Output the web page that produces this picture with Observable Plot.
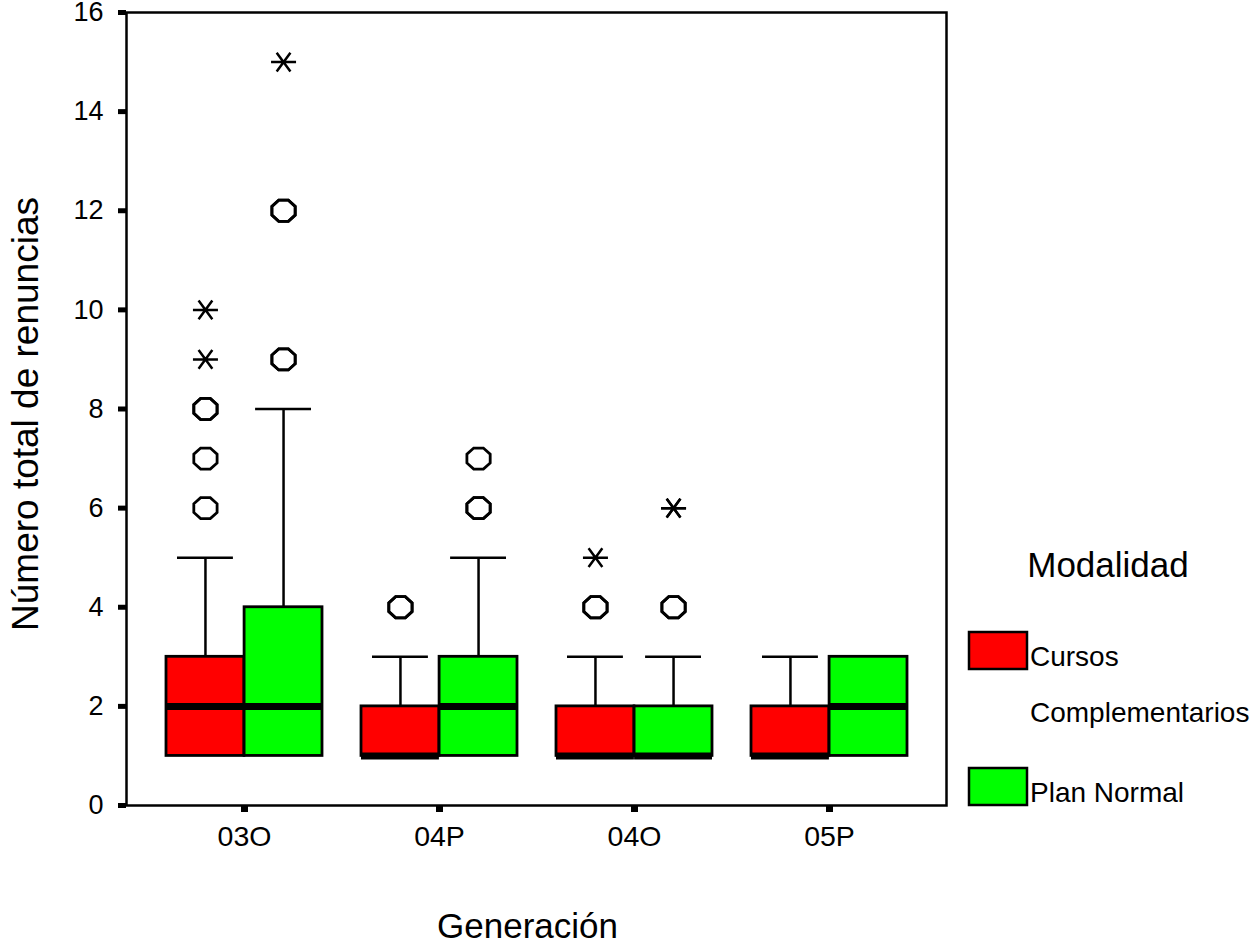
<!DOCTYPE html>
<html>
<head>
<meta charset="utf-8">
<script src="https://cdn.jsdelivr.net/npm/d3@7"></script>
<script src="https://cdn.jsdelivr.net/npm/@observablehq/plot@0.6"></script>
<style>
  html, body { margin: 0; padding: 0; background: #fff; overflow: hidden; }
  #chart svg { display: block; }
</style>
</head>
<body>
<div id="chart"></div>
<script>
// ---- Data ----
const categories = ["03O", "04P", "04O", "05P"];
const modalidades = ["Cursos Complementarios", "Plan Normal"];
const colors = ["#ff0000", "#00ff00"];
const yTicks = [0, 2, 4, 6, 8, 10, 12, 14, 16];

// Cursos Complementarios
const cursosQ1 = [1, 1, 1, 1];
const cursosMedian = [2, 1, 1, 1];
const cursosQ3 = [3, 2, 2, 2];
const cursosLow = [1, 1, 1, 1];
const cursosHigh = [5, 3, 3, 3];
const cursosOutliers = [[6, 7, 8, 8], [4, 4], [4, 4], []];
const cursosExtremes = [[9, 10], [], [5], []];

// Plan Normal
const planQ1 = [1, 1, 1, 1];
const planMedian = [2, 2, 1, 2];
const planQ3 = [4, 3, 2, 3];
const planLow = [1, 1, 1, 1];
const planHigh = [8, 5, 3, 3];
const planOutliers = [[9, 9, 12, 12], [6, 6, 7], [4, 4], []];
const planExtremes = [[15], [], [6, 6], []];

// ---- Build tables ----
const series = [
  {mod: modalidades[0], q1: cursosQ1, med: cursosMedian, q3: cursosQ3, lo: cursosLow, hi: cursosHigh, out: cursosOutliers, ext: cursosExtremes},
  {mod: modalidades[1], q1: planQ1, med: planMedian, q3: planQ3, lo: planLow, hi: planHigh, out: planOutliers, ext: planExtremes}
];
const boxes = series.map(s => categories.map((g, i) => ({gen: g, mod: s.mod, q1: s.q1[i], med: s.med[i], q3: s.q3[i], lo: s.lo[i], hi: s.hi[i]})));
const outs = series.map(s => categories.flatMap((g, i) => s.out[i].map(v => ({gen: g, mod: s.mod, value: v}))));
const exts = series.map(s => categories.flatMap((g, i) => s.ext[i].map(v => ({gen: g, mod: s.mod, value: v}))));

// ---- Layout ----
const W = 1259, H = 944;
const mL = 126, mR = 313, mT = 12, mB = 139;
const padIn = 0.2, padOut = 0.2;
const step = (W - mL - mR) / (categories.length - padIn + 2 * padOut);
const bw = step * (1 - padIn);
const half = bw / 2;
const capInset = 11;

// custom symbols
const octagon = {
  draw(ctx, size) {
    const r = Math.sqrt(size / Math.PI);
    const rx = r * 1.05, ry = r * 0.95;
    for (let k = 0; k < 8; k++) {
      const a = Math.PI / 8 + k * Math.PI / 4;
      const x = rx * Math.cos(a), y = ry * Math.sin(a);
      if (k === 0) ctx.moveTo(x, y); else ctx.lineTo(x, y);
    }
    ctx.closePath();
  }
};
const asterisk = {
  draw(ctx, size) {
    const r = Math.sqrt(size / Math.PI);
    ctx.moveTo(-r, 0); ctx.lineTo(r, 0);
    ctx.moveTo(-r * 0.55, -r * 0.75); ctx.lineTo(r * 0.55, r * 0.75);
    ctx.moveTo(-r * 0.55, r * 0.75); ctx.lineTo(r * 0.55, -r * 0.75);
  }
};

const marks = [];
series.forEach((s, k) => {
  const inset = k === 0 ? {insetLeft: 0, insetRight: half} : {insetLeft: half, insetRight: 0};
  const capIn = k === 0 ? {insetLeft: capInset, insetRight: half + capInset} : {insetLeft: half + capInset, insetRight: capInset};
  const dx = k === 0 ? -half / 2 : half / 2;
  marks.push(
    Plot.ruleX(boxes[k], {x: "gen", y1: "q3", y2: "hi", dx, stroke: "black", strokeWidth: 2.5}),
    Plot.ruleX(boxes[k], {x: "gen", y1: "lo", y2: "q1", dx, stroke: "black", strokeWidth: 2.5}),
    Plot.tickY(boxes[k], {x: "gen", y: "hi", ...capIn, stroke: "black", strokeWidth: 2.5}),
    Plot.barY(boxes[k], {x: "gen", y1: "q1", y2: "q3", fill: "mod", stroke: "black", strokeWidth: 2.8, ...inset}),
    Plot.tickY(boxes[k], {x: "gen", y: "med", ...inset, stroke: "black", strokeWidth: 7}),
    Plot.dot(outs[k], {x: "gen", y: "value", dx, symbol: octagon, r: 12, fill: "none", stroke: "black", strokeWidth: 2.8}),
    Plot.dot(exts[k], {x: "gen", y: "value", dx, symbol: asterisk, r: 12.5, fill: "none", stroke: "black", strokeWidth: 2.5})
  );
});

const chart = Plot.plot({
  width: W,
  height: H,
  marginLeft: mL,
  marginRight: mR,
  marginTop: mT,
  marginBottom: mB,
  style: {fontFamily: "'Liberation Sans', Arial, sans-serif", background: "#fff", color: "#000"},
  x: {type: "band", domain: categories, paddingInner: padIn, paddingOuter: padOut, axis: null},
  y: {domain: [0, 16], axis: null},
  color: {domain: modalidades, range: colors},
  marks: [
    ...marks,
    Plot.frame({stroke: "black", strokeWidth: 2.5}),
    Plot.axisX({tickSize: 7, tickPadding: 13, fontSize: 28.5, strokeWidth: 7, label: null}),
    Plot.axisY({ticks: yTicks, tickSize: 8, tickPadding: 15, fontSize: 27, strokeWidth: 5, label: null}),
    Plot.text(["Número total de renuncias"], {frameAnchor: "left", textAnchor: "middle", lineAnchor: "middle", text: d => d, rotate: -90, dx: -100, dy: 5, fontSize: 37}),
    Plot.text(["Generación"], {frameAnchor: "bottom", textAnchor: "middle", lineAnchor: "middle", text: d => d, dx: -9, dy: 121, fontSize: 35})
  ]
});
document.getElementById("chart").appendChild(chart);

// ---- Legend (right side), colours taken from the plot's colour scale ----
const colorScale = chart.scale("color");
const svg = d3.select(chart.tagName.toLowerCase() === "svg" ? chart : chart.querySelector("svg"));
const lg = svg.append("g").attr("font-family", "'Liberation Sans', Arial, sans-serif").attr("fill", "black");
lg.append("text").attr("x", 1108).attr("y", 577).attr("text-anchor", "middle").attr("font-size", 35).text("Modalidad");
const legendItems = [
  {label: ["Cursos", "Complementarios"], y: 632},
  {label: ["Plan Normal"], y: 768}
];
legendItems.forEach((it, i) => {
  lg.append("rect").attr("x", 969).attr("y", it.y).attr("width", 58).attr("height", 37)
    .attr("fill", colorScale.apply(colorScale.domain[i])).attr("stroke", "black").attr("stroke-width", 2.5);
  it.label.forEach((t, j) => {
    lg.append("text").attr("x", 1030).attr("y", it.y + 34 + j * 56).attr("text-anchor", "start").attr("font-size", 28).text(t);
  });
});
</script>
</body>
</html>
